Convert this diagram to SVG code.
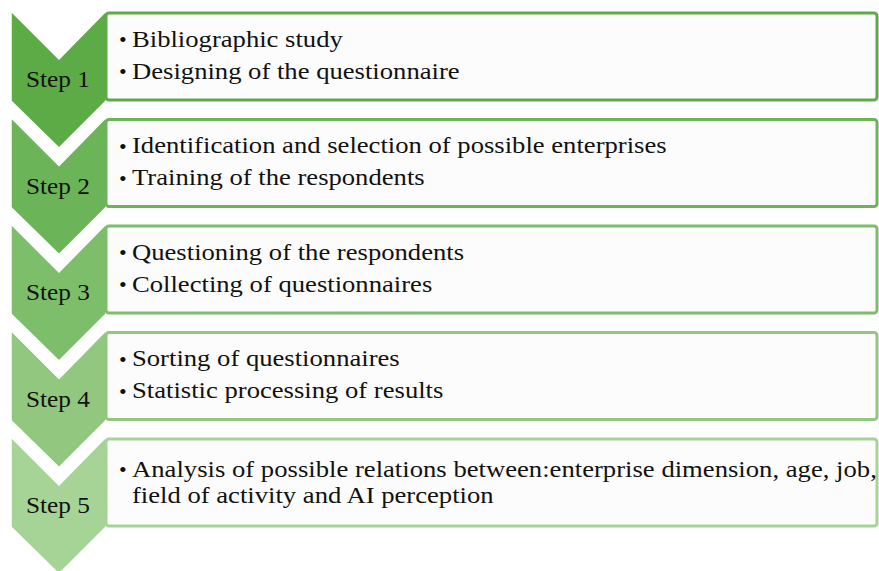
<svg xmlns="http://www.w3.org/2000/svg" width="879" height="571" viewBox="0 0 879 571">
  <style>
    .chev { stroke: #ffffff; stroke-width: 1.5; }
    .box { fill: #fcfcfc; stroke-width: 3; }
    .step { font-family: "Liberation Serif", "Times New Roman", serif; font-size: 24px; fill: #111111; text-anchor: middle; }
    .item { font-family: "Liberation Serif", "Times New Roman", serif; font-size: 24px; fill: #111111; }
    .dot { font-family: "Liberation Serif", "Times New Roman", serif; font-size: 22px; fill: #111111; }
  </style>
  <rect width="879" height="571" fill="#ffffff"/>

  <!-- Step 1 -->
  <g id="step1">
    <polygon class="chev" fill="#5cab47" points="11,11 59,59 106,11 106,101 59,148 11,101"/>
    <text class="step" x="58" y="87" textLength="64" lengthAdjust="spacingAndGlyphs">Step 1</text>
    <rect class="box" stroke="#5cab47" x="106" y="13" width="771" height="87" rx="3"/>
    <text class="dot" x="119" y="47">•</text>
    <text class="dot" x="119" y="79">•</text>
    <g transform="translate(132,0) scale(1.11,1)">
      <text class="item" x="0" y="47">Bibliographic study</text>
      <text class="item" x="0" y="79">Designing of the questionnaire</text>
    </g>
  </g>

  <!-- Step 2 -->
  <g id="step2">
    <polygon class="chev" fill="#6bb558" points="11,117.5 59,165.5 106,117.5 106,207.5 59,254.5 11,207.5"/>
    <text class="step" x="58" y="193.5" textLength="64" lengthAdjust="spacingAndGlyphs">Step 2</text>
    <rect class="box" stroke="#6bb558" x="106" y="119.5" width="771" height="87" rx="3"/>
    <text class="dot" x="119" y="153.5">•</text>
    <text class="dot" x="119" y="185.5">•</text>
    <g transform="translate(132,0) scale(1.11,1)">
      <text class="item" x="0" y="153.5">Identification and selection of possible enterprises</text>
      <text class="item" x="0" y="185.5">Training of the respondents</text>
    </g>
  </g>

  <!-- Step 3 -->
  <g id="step3">
    <polygon class="chev" fill="#7dbe6b" points="11,224 59,272 106,224 106,314 59,361 11,314"/>
    <text class="step" x="58" y="300" textLength="64" lengthAdjust="spacingAndGlyphs">Step 3</text>
    <rect class="box" stroke="#7dbe6b" x="106" y="226" width="771" height="87" rx="3"/>
    <text class="dot" x="119" y="260">•</text>
    <text class="dot" x="119" y="292">•</text>
    <g transform="translate(132,0) scale(1.11,1)">
      <text class="item" x="0" y="260">Questioning of the respondents</text>
      <text class="item" x="0" y="292">Collecting of questionnaires</text>
    </g>
  </g>

  <!-- Step 4 -->
  <g id="step4">
    <polygon class="chev" fill="#91c77f" points="11,330.5 59,378.5 106,330.5 106,420.5 59,467.5 11,420.5"/>
    <text class="step" x="58" y="406.5" textLength="64" lengthAdjust="spacingAndGlyphs">Step 4</text>
    <rect class="box" stroke="#91c77f" x="106" y="332.5" width="771" height="87" rx="3"/>
    <text class="dot" x="119" y="366.5">•</text>
    <text class="dot" x="119" y="398.5">•</text>
    <g transform="translate(132,0) scale(1.11,1)">
      <text class="item" x="0" y="366.5">Sorting of questionnaires</text>
      <text class="item" x="0" y="398.5">Statistic processing of results</text>
    </g>
  </g>

  <!-- Step 5 -->
  <g id="step5">
    <polygon class="chev" fill="#a6d396" points="11,437 59,485 106,437 106,527 59,574 11,527"/>
    <text class="step" x="58" y="513" textLength="64" lengthAdjust="spacingAndGlyphs">Step 5</text>
    <rect class="box" stroke="#a6d396" x="106" y="439" width="771" height="87" rx="3"/>
    <text class="dot" x="119" y="477">•</text>
    <g transform="translate(132,0) scale(1.11,1)">
      <text class="item" x="0" y="477" textLength="671" lengthAdjust="spacing">Analysis of possible relations between:enterprise dimension, age, job,</text>
      <text class="item" x="0" y="503">field of activity and AI perception</text>
    </g>
  </g>

  <!-- no connectors: the chevrons themselves carry the sequence -->
  <g id="connectors"/>
</svg>
